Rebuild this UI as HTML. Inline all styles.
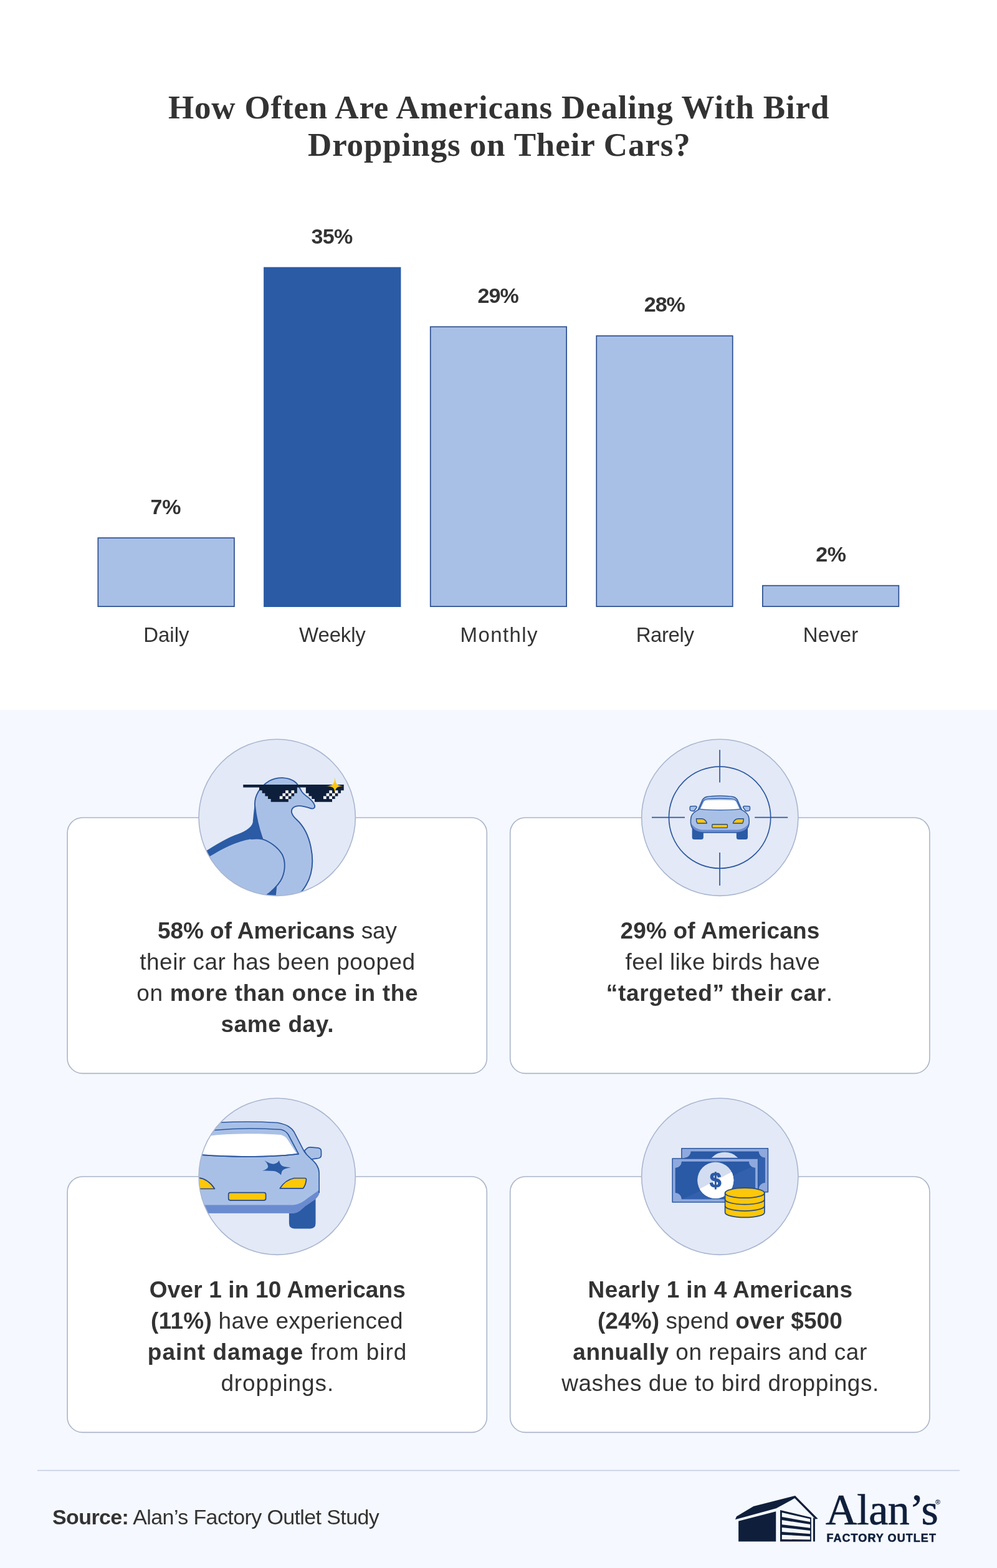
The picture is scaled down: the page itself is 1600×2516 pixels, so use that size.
<!DOCTYPE html>
<html lang="en">
<head>
<meta charset="utf-8">
<title>How Often Are Americans Dealing With Bird Droppings on Their Cars?</title>
<style>
*{box-sizing:border-box;margin:0;padding:0}
html,body{width:1600px;height:2516px;background:#fff;overflow:hidden}
body{position:relative;font-family:"Liberation Sans",sans-serif;color:#333}
.lower{position:absolute;left:0;top:1139px;width:1600px;height:1377px;background:#f5f8fe}
.gfx{position:absolute;left:0;top:0;width:1600px;height:2516px;display:block}
h1{font-family:"Liberation Serif",serif;font-weight:bold;font-size:53px;color:#333}
.ti{position:absolute;white-space:nowrap;display:block;font-family:"Liberation Serif",serif;font-weight:bold;color:#333}
.tx{position:absolute;white-space:nowrap;color:#333}
.tx b{font-weight:bold}
.lg1{position:absolute;white-space:nowrap;font-family:"Liberation Serif",serif;color:#0f1f3b;-webkit-text-stroke:0.7px #0f1f3b}
.lg2{position:absolute;white-space:nowrap;font-family:"Liberation Sans",sans-serif;font-weight:bold;color:#0f1f3b;-webkit-text-stroke:0.5px #0f1f3b}
.reg{position:absolute;left:1501px;top:2404px;font-size:11px;line-height:12px;font-weight:bold;color:#0f1f3b;font-family:"Liberation Sans",sans-serif}
</style>
</head>
<body>
<div class="lower"></div>

<svg class="gfx" viewBox="0 0 1600 2516" width="1600" height="2516">
<defs>
<clipPath id="k1"><circle cx="444.7" cy="1311.8" r="125.6"/></clipPath>
<clipPath id="k2"><circle cx="1155.3" cy="1311.8" r="125.6"/></clipPath>
<clipPath id="k3"><circle cx="444.7" cy="1887.8" r="125.6"/></clipPath>
<clipPath id="k4"><circle cx="1155.3" cy="1887.8" r="125.6"/></clipPath>
</defs>
<!-- bars -->
<g fill="#a9c0e6" stroke="#2d4f90" stroke-width="1.7">
<rect x="157.35" y="863.15" width="218.60" height="110.00"/>
<rect x="423.10" y="428.60" width="220.30" height="545.40" fill="#2b5ba5" stroke="none"/>
<rect x="690.75" y="524.35" width="218.40" height="448.80"/>
<rect x="957.25" y="538.95" width="218.50" height="434.20"/>
<rect x="1223.85" y="939.65" width="218.50" height="33.50"/>
</g>
<!-- cards -->
<g fill="#fff" stroke="#aab5ca" stroke-width="1.6">
<rect x="108.1" y="1312.0" width="673.2" height="410.4" rx="24.5"/>
<rect x="818.7" y="1312.0" width="673.2" height="410.4" rx="24.5"/>
<rect x="108.1" y="1888.0" width="673.2" height="410.4" rx="24.5"/>
<rect x="818.7" y="1888.0" width="673.2" height="410.4" rx="24.5"/>
</g>
<g fill="#e3e9f6">
<circle cx="444.7" cy="1311.8" r="125.6"/>
<circle cx="1155.3" cy="1311.8" r="125.6"/>
<circle cx="444.7" cy="1887.8" r="125.6"/>
<circle cx="1155.3" cy="1887.8" r="125.6"/>
</g>
<g clip-path="url(#k1)">
<g transform="translate(300,1170) scale(0.18943)" stroke-linejoin="round" stroke-linecap="round">
<path d="M575,630 C566,700 562,750 558,790 C545,840 480,872 400,900 C300,940 200,1010 90,1075 L90,1250 L700,1050 Z" fill="#2b5ba5"/>
<path d="M760,1318 L745,1440 L600,1440 L700,1340 Z" fill="#2b5ba5"/>
<path d="M640,930 C612,850 586,750 576,650 C568,560 625,482 698,438 C765,402 860,402 920,450 C945,472 955,502 975,532 C1000,567 1050,585 1075,630 C1095,665 1075,682 1040,669 C990,651 930,640 900,665 C872,690 888,730 930,767 C990,822 1030,900 1050,1000 C1075,1120 1062,1230 1010,1320 C990,1355 970,1380 945,1402 L930,1450 L745,1450 L757,1322 Z" fill="#a9c0e6" stroke="#2c58a0" stroke-width="10"/>
<path d="M60,1150 L190,1080 C300,1012 420,950 545,930 C580,925 610,925 640,932 C700,950 770,1000 806,1060 C835,1115 835,1190 806,1260 C790,1300 760,1335 700,1387 C685,1398 670,1408 655,1418 L640,1460 L60,1460 Z" fill="#a9c0e6"/>
<path d="M545,930 C580,925 610,925 640,932 C700,950 770,1000 806,1060 C835,1115 835,1190 806,1260 C790,1300 760,1335 700,1387 C685,1398 670,1408 655,1418" fill="none" stroke="#2c58a0" stroke-width="10"/>
</g>
<g>
<path d="M390.26,1259.00 L551.72,1259.00 L551.72,1268.24 L547.04,1268.24 L547.04,1272.86 L542.36,1272.86 L542.36,1277.48 L537.68,1277.48 L537.68,1282.10 L533.00,1282.10 L533.00,1286.72 L504.92,1286.72 L504.92,1282.10 L500.24,1282.10 L500.24,1277.48 L495.56,1277.48 L495.56,1272.86 L490.88,1272.86 L490.88,1263.62 L476.84,1263.62 L476.84,1272.86 L472.16,1272.86 L472.16,1277.48 L467.48,1277.48 L467.48,1282.10 L462.80,1282.10 L462.80,1286.72 L434.72,1286.72 L434.72,1282.10 L430.04,1282.10 L430.04,1277.48 L425.36,1277.48 L425.36,1272.86 L420.68,1272.86 L420.68,1268.24 L416.00,1268.24 L416.00,1263.62 L390.26,1263.62 Z" fill="#0e1f3b"/>
<rect x="458.12" y="1268.24" width="4.68" height="4.62" fill="#fff"/>
<rect x="467.48" y="1268.24" width="4.68" height="4.62" fill="#fff"/>
<rect x="453.44" y="1272.86" width="4.68" height="4.62" fill="#fff"/>
<rect x="462.80" y="1272.86" width="4.68" height="4.62" fill="#fff"/>
<rect x="448.76" y="1277.48" width="4.68" height="4.62" fill="#fff"/>
<rect x="458.12" y="1277.48" width="4.68" height="4.62" fill="#fff"/>
<rect x="528.32" y="1268.24" width="4.68" height="4.62" fill="#fff"/>
<rect x="537.68" y="1268.24" width="4.68" height="4.62" fill="#fff"/>
<rect x="523.64" y="1272.86" width="4.68" height="4.62" fill="#fff"/>
<rect x="533.00" y="1272.86" width="4.68" height="4.62" fill="#fff"/>
<rect x="518.96" y="1277.48" width="4.68" height="4.62" fill="#fff"/>
<rect x="528.32" y="1277.48" width="4.68" height="4.62" fill="#fff"/>
</g>
<path d="M537.6,1246.4 C538.4,1258.6 540.2,1260.4 551.8,1261.2 C540.2,1262.0 538.4,1263.6 537.6,1273.2 C536.8,1263.6 535.0,1262.0 523.0,1261.2 C535.0,1260.4 536.8,1258.6 537.6,1246.4 Z" fill="#fdc60f"/>
</g>
<g clip-path="url(#k2)">
<g transform="translate(1010,1170) scale(0.18943)" fill="none" stroke="#2c58a0" stroke-width="9">
<circle cx="766" cy="748" r="431"/>
<path d="M766,175 V452 M766,1045 V1325 M190,748 H470 M1062,748 H1342"/>
</g>
<g transform="translate(1095,1265) scale(0.07838)" stroke-linejoin="round" stroke-linecap="round">
<path d="M250,800 H420 Q432,800 432,812 V1000 Q432,1045 387,1045 H245 Q200,1045 200,1000 V800 Z" fill="#2b5ba5"/>
<path d="M1290,800 H1120 Q1108,800 1108,812 V1000 Q1108,1045 1153,1045 H1295 Q1340,1045 1340,1000 V800 Z" fill="#2b5ba5"/>
<path d="M172,368 L268,362 Q294,364 294,390 L240,466 L180,458 Q156,452 156,430 L156,388 Q156,370 172,368 Z" fill="#a9c0e6" stroke="#2c58a0" stroke-width="19"/>
<path d="M1368,368 L1272,362 Q1246,364 1246,390 L1300,466 L1360,458 Q1384,452 1384,430 L1384,388 Q1384,370 1368,368 Z" fill="#a9c0e6" stroke="#2c58a0" stroke-width="19"/>
<path d="M322,440 L398,268 C418,214 446,186 500,173 C590,156 680,153 770,153 C860,153 950,156 1040,173 C1094,186 1122,214 1142,268 L1218,440 Z" fill="#a6c0ec" stroke="#2c58a0" stroke-width="20"/>
<path d="M340,432 C262,470 200,520 182,580 C166,650 170,740 196,800 C232,862 320,902 420,906 L1120,906 C1220,902 1308,862 1344,800 C1370,740 1374,650 1358,580 C1340,520 1278,470 1200,432 Z" fill="#a9c0e6"/>
<path d="M186,722 C232,800 322,845 422,850 L1118,850 C1218,845 1308,800 1354,722 C1360,760 1356,790 1344,806 C1308,864 1220,902 1120,906 L420,906 C320,902 232,864 196,806 C184,790 180,760 186,722 Z" fill="#6a8bd0"/>
<path d="M340,432 C262,470 200,520 182,580 C166,650 170,740 196,800 C232,862 320,902 420,906 L1120,906 C1220,902 1308,862 1344,800 C1370,740 1374,650 1358,580 C1340,520 1278,470 1200,432" fill="none" stroke="#2c58a0" stroke-width="20"/>
<path d="M350,424 L420,272 C438,232 462,222 520,214 C690,202 850,202 1020,214 C1078,222 1102,232 1120,272 L1190,424 C1000,452 540,452 350,424 Z" fill="#a6c0ec" stroke="#2c58a0" stroke-width="15"/>
<path d="M372,416 L436,286 C452,256 470,250 520,246 C690,236 850,236 1020,246 C1070,250 1088,256 1104,286 L1168,416 C1000,440 540,440 372,416 Z" fill="#fff"/>
<path d="M287,622 L400,622 C450,627 488,670 503,714 L306,714 C292,690 285,652 287,622 Z" fill="#fdc60f" stroke="#254a8c" stroke-width="17"/>
<path d="M1253,622 L1140,622 C1090,627 1052,670 1037,714 L1234,714 C1248,690 1255,652 1253,622 Z" fill="#fdc60f" stroke="#254a8c" stroke-width="17"/>
<rect x="610" y="737" width="314" height="72" rx="14" fill="#fdc60f" stroke="#254a8c" stroke-width="17"/>
</g>

</g>
<g clip-path="url(#k3)">
<g stroke-linejoin="round" stroke-linecap="round">
<path d="M 463.9,1930.6 L 506.5,1923.1 L 506.5,1962.8 Q 506.5,1971.4 498.0,1971.4 L 472.4,1971.4 Q 463.9,1971.4 463.9,1962.8 Z" fill="#2b5ba5"/>
<path d="M 488.5,1846.4 L 493.5,1841.9 Q 495.3,1840.8 498.5,1840.9 L 510.5,1841.9 Q 515.3,1842.6 515.5,1847.3 L 515.5,1853.5 Q 515.3,1857.7 511.1,1858.5 L 499.5,1860.2 L 492.7,1854.3 Z" fill="#a9c0e6" stroke="#2c58a0" stroke-width="1.7"/>
<path d="M 268.2,1803.1 L 352.8,1801.0 C 383.2,1799.6 414.5,1799.6 445.9,1801.5 C 461.4,1804.6 467.6,1809.3 472.0,1816.3 L 487.5,1846.4 C 490.6,1852.7 496.9,1856.9 503.2,1863.2 C 509.4,1869.4 512.0,1875.7 512.1,1882.0 L 512.2,1913.6 C 512.2,1921.2 504.6,1925.0 489.4,1935.4 C 481.9,1942.0 478.1,1946.7 468.6,1946.7 L 262.1,1946.7 Z" fill="#a9c0e6"/>
<path d="M 262.1,1933.5 L 470.5,1933.5 C 480.0,1932.9 487.5,1927.8 493.2,1923.1 L 512.2,1909.4 L 512.2,1913.6 C 512.2,1921.2 504.6,1925.0 489.4,1935.4 C 481.9,1942.0 478.1,1946.7 468.6,1946.7 L 262.1,1946.7 Z" fill="#6a8bd0"/>
<path d="M 268.2,1803.1 L 352.8,1801.0 C 383.2,1799.6 414.5,1799.6 445.9,1801.5 C 461.4,1804.6 467.6,1809.3 472.0,1816.3 L 487.5,1846.4 C 490.6,1852.7 496.9,1856.9 503.2,1863.2 C 509.4,1869.4 512.0,1875.7 512.1,1882.0 L 512.2,1913.6" fill="none" stroke="#2c58a0" stroke-width="1.7"/>
<path d="M 268.2,1817.2 L 343.4,1813.5 C 372.7,1810.7 414.5,1809.9 451.1,1812.5 C 456.1,1813.8 459.8,1816.1 462.6,1820.5 L 479.1,1851.7 C 461.4,1853.7 445.9,1856.0 398.8,1856.0 C 372.7,1856.0 346.6,1855.0 323.6,1853.2 L 268.2,1851.7 Z" fill="#a9c0e6" stroke="#2c58a0" stroke-width="1.7"/>
<path d="M 268.2,1826.6 L 337.2,1822.4 C 362.3,1819.3 414.5,1818.0 451.1,1821.1 C 456.1,1822.9 459.3,1824.5 462.6,1830.2 L 476.0,1851.1 C 461.4,1852.7 445.9,1855.0 398.8,1855.0 C 372.7,1855.0 346.6,1854.0 323.6,1852.3 L 268.2,1850.6 Z" fill="#fff"/>
<path d="M 479.1,1851.7 C 461.4,1853.7 445.9,1856.0 398.8,1856.0 C 372.7,1856.0 346.6,1855.0 323.6,1853.2 L 268.2,1851.7" fill="none" stroke="#2c58a0" stroke-width="1.7"/>
<path d="M 424.4,1862.1 Q 434.4,1868.6 440.1,1867.5 Q 445.9,1866.3 447.9,1861.9 Q 449.5,1870.5 456.3,1872.1 Q 461.5,1873.2 466.8,1873.3 Q 456.3,1874.9 453.4,1878.0 Q 451.1,1881.1 451.1,1885.6 Q 445.9,1880.1 439.6,1879.0 Q 430.2,1878.4 420.8,1878.6 Q 428.6,1876.7 430.2,1872.6 Q 430.2,1867.5 424.4,1862.1 Z" fill="#2b5ba5"/>
<path d="M 449.3,1906.8 Q 457.4,1893.5 471.8,1890.5 L 489.6,1890.5 Q 491.9,1890.7 491.4,1893.7 Q 490.6,1901.8 486.4,1906.8 Z" fill="#fdc70a" stroke="#27488a" stroke-width="1.7"/>
<path d="M 281.1,1889.9 L 318.9,1889.9 Q 334.1,1891.8 344.5,1907.5 L 281.1,1907.5 Z" fill="#fdc70a" stroke="#27488a" stroke-width="1.7"/>
<rect x="366.7" y="1913.6" width="59.9" height="12.5" rx="3" fill="#fdc70a" stroke="#27488a" stroke-width="1.7"/>
</g>
</g>
<g clip-path="url(#k4)">
<g transform="translate(1070,1830) scale(0.11104)" stroke-linejoin="round">
<rect x="215" y="115" width="1248" height="630" fill="#8fa9de" stroke="#2c58a0" stroke-width="14"/>
<path d="M348,158 H1330 A92,92 0 0 0 1422,250 V610 A92,92 0 0 0 1330,702 H348 A92,92 0 0 0 256,610 V250 A92,92 0 0 0 348,158 Z" fill="#2a59a5"/>
<clipPath id="bk1"><path d="M348,158 H1330 A92,92 0 0 0 1422,250 V610 A92,92 0 0 0 1330,702 H348 A92,92 0 0 0 256,610 V250 A92,92 0 0 0 348,158 Z"/></clipPath>
<path d="M316,722 L1442,198 L1442,722 L316,722 Z" fill="#3a68b4" opacity="0.55" clip-path="url(#bk1)"/>
<clipPath id="bk1c"><rect x="256" y="158" width="1166" height="92"/></clipPath>
<circle cx="838" cy="430" r="262" fill="#d3ddf1" clip-path="url(#bk1c)"/>
<rect x="82" y="262" width="1239" height="629" fill="#8fa9de" stroke="#2c58a0" stroke-width="14"/>
<path d="M215,305 H1188 A92,92 0 0 0 1280,397 V756 A92,92 0 0 0 1188,848 H215 A92,92 0 0 0 123,756 V397 A92,92 0 0 0 215,305 Z" fill="#2a59a5"/>
<clipPath id="bk2"><path d="M215,305 H1188 A92,92 0 0 0 1280,397 V756 A92,92 0 0 0 1188,848 H215 A92,92 0 0 0 123,756 V397 A92,92 0 0 0 215,305 Z"/></clipPath>
<path d="M183,868 L1300,345 L1300,868 L183,868 Z" fill="#3a68b4" opacity="0.55" clip-path="url(#bk2)"/>
<clipPath id="bk2c"><circle cx="705" cy="575" r="262"/></clipPath>
<circle cx="705" cy="575" r="262" fill="#d3ddf1"/>
<path d="M380,752 L1040,400 L1040,900 L380,900 Z" fill="#fff" clip-path="url(#bk2c)"/>
<text x="705" y="678" text-anchor="middle" font-family="Liberation Sans, sans-serif" font-weight="bold" font-size="300" fill="#2a59a5" stroke="#2a59a5" stroke-width="10">$</text>
<path d="M843,758 V1040 A285,72 0 0 0 1413,1040 V758 Z" fill="#fdc70a" stroke="#2a4d80" stroke-width="16"/>
<path d="M843,852 A285,72 0 0 0 1413,852" fill="none" stroke="#2a4d80" stroke-width="16"/>
<path d="M843,946 A285,72 0 0 0 1413,946" fill="none" stroke="#2a4d80" stroke-width="16"/>
<ellipse cx="1128" cy="758" rx="285" ry="72" fill="#fdc70a" stroke="#2a4d80" stroke-width="16"/>
</g>
</g>
<g fill="none" stroke="#a9b6d0" stroke-width="1.6">
<circle cx="444.7" cy="1311.8" r="125.6"/>
<circle cx="1155.3" cy="1311.8" r="125.6"/>
<circle cx="444.7" cy="1887.8" r="125.6"/>
<circle cx="1155.3" cy="1887.8" r="125.6"/>
</g>
<rect x="60" y="2358.7" width="1480" height="1.6" fill="#c5cde0"/>
<g transform="translate(1170,2390) scale(0.10450)" fill="#0f1f3b">
<path d="M95,462 L115,415 L375,258 L1015,95 L1365,450 L1325,455 L1008,135 L725,290 Z"/>
<path d="M145,485 L720,338 L720,800 L145,800 Z"/>
<path d="M785,315 L1262,430 L1262,800 L785,800 Z M812,355 L812,422 L1245,497 L1245,452 Z M812,468 L812,538 L1245,590 L1245,537 Z M812,583 L812,650 L1245,681 L1245,631 Z M812,695 L812,765 L1245,770 L1245,720 Z" fill-rule="evenodd"/>
<path d="M1292,432 L1320,445 L1320,800 L1292,800 Z"/>
</g>

</svg>

<h1>
<span class="ti" id="title1" style="left:270.00px;top:132px;font-size:53px;line-height:80px;letter-spacing:0.819px">How Often Are Americans Dealing With Bird</span>
<span class="ti" id="title2" style="left:494.00px;top:192px;font-size:53px;line-height:80px;letter-spacing:0.884px">Droppings on Their Cars?</span>
</h1>

<div class="tx" id="v35" style="left:499.60px;top:353px;font-size:34px;line-height:52px;letter-spacing:-0.713px"><b>35%</b></div>
<div class="tx" id="v29" style="left:766.60px;top:448px;font-size:34px;line-height:52px;letter-spacing:-0.902px"><b>29%</b></div>
<div class="tx" id="v28" style="left:1033.70px;top:462px;font-size:34px;line-height:52px;letter-spacing:-0.950px"><b>28%</b></div>
<div class="tx" id="v7" style="left:241.40px;top:787px;font-size:34px;line-height:52px;letter-spacing:0.000px"><b>7%</b></div>
<div class="tx" id="v2" style="left:1309.20px;top:863px;font-size:34px;line-height:52px;letter-spacing:-0.380px"><b>2%</b></div>
<div class="tx" id="Daily" style="left:230.20px;top:993px;font-size:33px;line-height:51px;letter-spacing:0.000px">Daily</div>
<div class="tx" id="Weekly" style="left:480.10px;top:993px;font-size:33px;line-height:51px;letter-spacing:-0.171px">Weekly</div>
<div class="tx" id="Monthly" style="left:738.60px;top:993px;font-size:33px;line-height:51px;letter-spacing:1.377px">Monthly</div>
<div class="tx" id="Rarely" style="left:1020.70px;top:993px;font-size:33px;line-height:51px;letter-spacing:-0.418px">Rarely</div>
<div class="tx" id="Never" style="left:1288.70px;top:993px;font-size:33px;line-height:51px;letter-spacing:0.142px">Never</div>

<div class="tx" id="c1l1" style="left:253.00px;top:1466px;font-size:37px;line-height:55px;letter-spacing:-0.060px"><b>58% of Americans</b> say</div>
<div class="tx" id="c1l2" style="left:224.20px;top:1516px;font-size:37px;line-height:55px;letter-spacing:0.503px">their car has been pooped</div>
<div class="tx" id="c1l3" style="left:219.20px;top:1566px;font-size:37px;line-height:55px;letter-spacing:0.677px">on <b>more than once in the</b></div>
<div class="tx" id="c1l4" style="left:354.40px;top:1616px;font-size:37px;line-height:55px;letter-spacing:0.617px"><b>same day.</b></div>
<div class="tx" id="c2l1" style="left:995.50px;top:1466px;font-size:37px;line-height:55px;letter-spacing:0.165px"><b>29% of Americans</b></div>
<div class="tx" id="c2l2" style="left:1003.60px;top:1516px;font-size:37px;line-height:55px;letter-spacing:0.305px">feel like birds have</div>
<div class="tx" id="c2l3" style="left:972.80px;top:1566px;font-size:37px;line-height:55px;letter-spacing:0.684px"><b>“targeted” their car</b>.</div>
<div class="tx" id="c3l1" style="left:239.80px;top:2042px;font-size:37px;line-height:55px;letter-spacing:0.154px"><b>Over 1 in 10 Americans</b></div>
<div class="tx" id="c3l2" style="left:242.10px;top:2092px;font-size:37px;line-height:55px;letter-spacing:0.262px"><b>(11%)</b> have experienced</div>
<div class="tx" id="c3l3" style="left:236.80px;top:2142px;font-size:37px;line-height:55px;letter-spacing:0.995px"><b>paint damage</b> from bird</div>
<div class="tx" id="c3l4" style="left:354.40px;top:2192px;font-size:37px;line-height:55px;letter-spacing:0.897px">droppings.</div>
<div class="tx" id="c4l1" style="left:943.60px;top:2042px;font-size:37px;line-height:55px;letter-spacing:0.384px"><b>Nearly 1 in 4 Americans</b></div>
<div class="tx" id="c4l2" style="left:958.90px;top:2092px;font-size:37px;line-height:55px;letter-spacing:0.105px"><b>(24%)</b> spend <b>over $500</b></div>
<div class="tx" id="c4l3" style="left:919.30px;top:2142px;font-size:37px;line-height:55px;letter-spacing:0.515px"><b>annually</b> on repairs and car</div>
<div class="tx" id="c4l4" style="left:901.20px;top:2192px;font-size:37px;line-height:55px;letter-spacing:0.550px">washes due to bird droppings.</div>

<div class="tx" id="src" style="left:84.00px;top:2408px;font-size:34px;line-height:52px;letter-spacing:-0.609px"><b>Source:</b> Alan’s Factory Outlet Study</div>
<div class="lg1" id="logo1" style="left:1325.00px;top:2370px;font-size:70px;line-height:105px;letter-spacing:-0.418px">Alan’s</div>
<div class="lg2" id="logo2" style="left:1326.40px;top:2454px;font-size:18px;line-height:28px;letter-spacing:1.067px">FACTORY OUTLET</div>
<div class="reg">®</div>

</body>
</html>
